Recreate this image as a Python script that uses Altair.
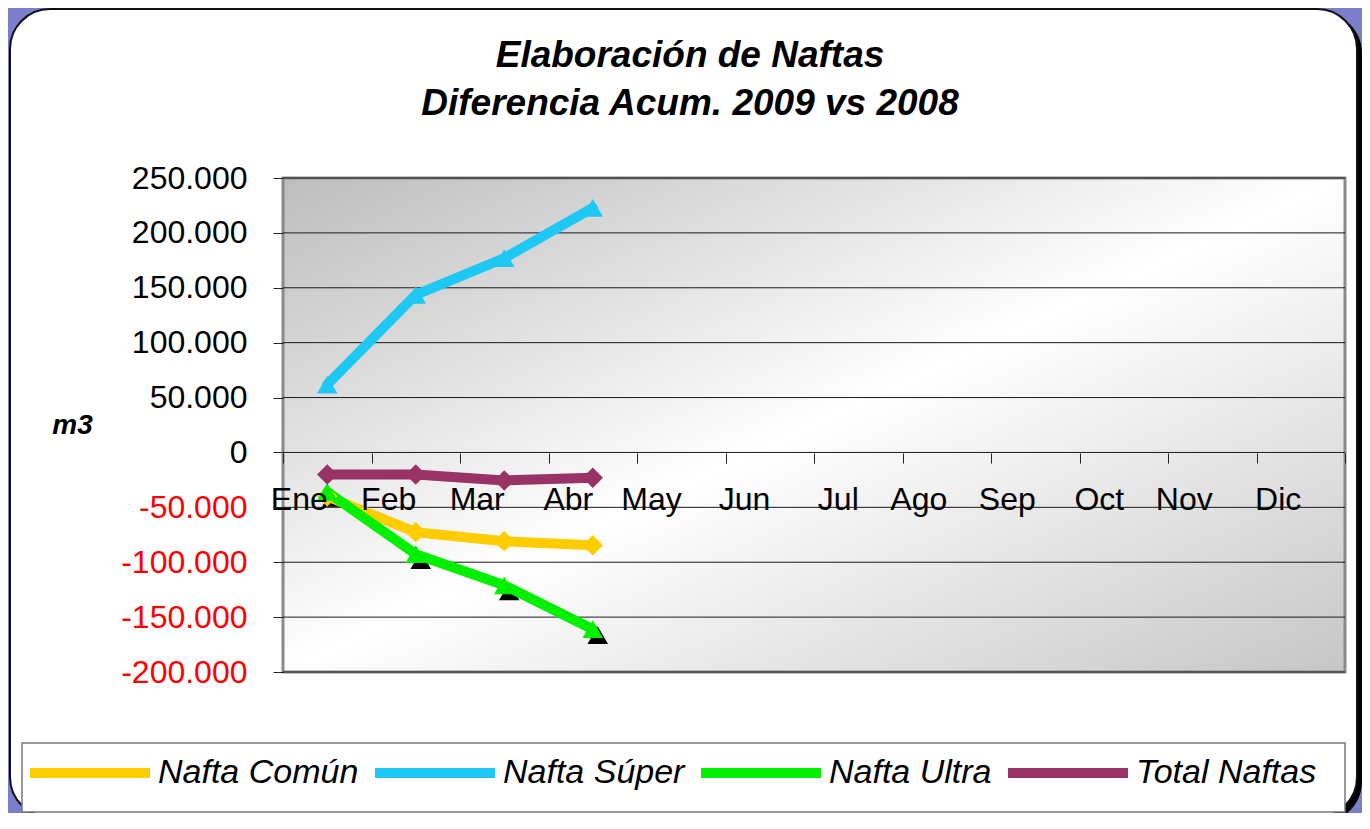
import altair as alt
import pandas as pd

# ---------------- data ----------------
meses = ["Ene", "Feb", "Mar", "Abr", "May", "Jun", "Jul", "Ago", "Sep", "Oct", "Nov", "Dic"]
meses_datos = ["Ene", "Feb", "Mar", "Abr"]
series = ["Nafta Común", "Nafta Súper", "Nafta Ultra", "Total Naftas"]
colores = ["#FFCC00", "#1EC8F5", "#00F000", "#993366"]
formas = ["diamond", "triangle-up", "triangle-up", "diamond"]
grosores = [10, 10, 10, 7]

nafta_comun = [-40000, -72700, -80900, -84500]
nafta_super = [61800, 143600, 177000, 222700]
nafta_ultra = [-36000, -92700, -121000, -161000]
total_naftas = [-20000, -20000, -25500, -23000]

y_ticks = [-200000, -150000, -100000, -50000, 0, 50000, 100000, 150000, 200000, 250000]

valores = {
    "Nafta Común": nafta_comun,
    "Nafta Súper": nafta_super,
    "Nafta Ultra": nafta_ultra,
    "Total Naftas": total_naftas,
}
rows = []
for s in series:
    for m, v in zip(meses_datos, valores[s]):
        rows.append({"serie": s, "mes": m, "valor": v})
df = pd.DataFrame(rows)
df_grid = pd.DataFrame({"valor": y_ticks})
one = pd.DataFrame({"k": [0]})

# ---------------- layout ----------------
W, H = 1062, 494          # plot area
PX, PY = 283, 178         # plot origin on page
FONT = "Liberation Sans"

xenc = alt.X(
    "mes:N",
    sort=meses,
    bandPosition=0.5,
    scale=alt.Scale(domain=meses, type="band", paddingInner=0, paddingOuter=0),
    axis=alt.Axis(
        title=None, labelAngle=0, labelFontSize=32, labelFont=FONT, labelColor="black",
        tickBand="extent", tickSize=10, tickColor="#222222", tickWidth=1,
        domain=False, grid=False, offset=-219, labelPadding=36, zindex=1,
    ),
)
yscale = alt.Scale(domain=[-200000, 250000], nice=False, zero=False)
yenc = alt.Y(
    "valor:Q",
    scale=yscale,
    axis=alt.Axis(
        values=y_ticks, grid=False, domain=False, tickSize=10, tickColor="#222222",
        labelFontSize=32, labelFont=FONT, labelPadding=26,
        labelExpr="(datum.value < 0 ? '-' : '') + replace(format(abs(datum.value), ','), ',', '.')",
        labelColor=alt.condition("datum.value < 0", alt.value("#FF0000"), alt.value("#000000")),
        title="m3", titleAngle=0, titleFontSize=28, titleFont=FONT, titleFontStyle="italic",
        titleFontWeight="bold", titleX=72 - PX, titleY=425 - PY, titleAlign="center",
        titleBaseline="middle", zindex=1,
    ),
)

# decorations (panel, shadow, plot background, legend box)
shadow = alt.Chart(one).mark_rect(fill="#000000", cornerRadius=40).encode(
    x=alt.value(14 - PX), x2=alt.value(1362 - PX), y=alt.value(13 - PY), y2=alt.value(822 - PY)
)
panel = alt.Chart(one).mark_rect(fill="#ffffff", stroke="#111111", strokeWidth=2, cornerRadius=40).encode(
    x=alt.value(10 - PX), x2=alt.value(1357 - PX), y=alt.value(9 - PY), y2=alt.value(817 - PY)
)
plotbg = alt.Chart(one).mark_rect(
    fill=alt.Gradient(
        gradient="linear",
        stops=[
            alt.GradientStop(color="#bdbdbd", offset=0),
            alt.GradientStop(color="#ffffff", offset=0.5),
            alt.GradientStop(color="#c6c6c6", offset=1),
        ],
        x1=0, y1=0, x2=1, y2=1,
    ),
    stroke="#8a8a8a", strokeWidth=3,
).encode(x=alt.value(0), x2=alt.value(W), y=alt.value(0), y2=alt.value(H))
legbox = alt.Chart(one).mark_rect(fill="#ffffff", stroke="#7a7a7a", strokeWidth=1.5).encode(
    x=alt.value(22 - PX), x2=alt.value(1345 - PX), y=alt.value(743 - PY), y2=alt.value(812 - PY)
)

grid = alt.Chart(df_grid).mark_rule(color="#1a1a1a", strokeWidth=1).encode(
    y=alt.Y("valor:Q", scale=yscale)
)

color_scale = alt.Scale(domain=series, range=colores)

lines = alt.Chart(df).mark_line(strokeJoin="round", strokeCap="round").encode(
    x=xenc,
    y=yenc,
    color=alt.Color(
        "serie:N", scale=color_scale,
        legend=alt.Legend(
            title=None, orient="none", legendX=25 - PX, legendY=708 - PY,
            direction="horizontal", symbolType="stroke", symbolSize=14400,
            symbolStrokeWidth=8, labelFontSize=34, labelFont=FONT, labelFontStyle="italic",
            labelColor="black", labelOffset=3, columnPadding=-4, labelLimit=500, zindex=2,
        ),
    ),
    strokeWidth=alt.StrokeWidth("serie:N", scale=alt.Scale(domain=series, range=grosores), legend=None),
    order=alt.Order("mes_idx:Q"),
).transform_calculate(mes_idx="indexof(['Ene','Feb','Mar','Abr'], datum.mes)")

px = alt.X("mes:N", sort=meses, bandPosition=0.5)
py = alt.Y("valor:Q", scale=yscale)

# black marker shadows behind the Ultra triangles
shadow_pts = alt.Chart(df).transform_filter(alt.datum.serie == "Nafta Ultra").mark_point(
    filled=True, shape="triangle-up", color="#000000", size=420, opacity=1, xOffset=5, yOffset=6
).encode(x=px, y=py)

point_layers = []
for s, c, f in zip(series, colores, formas):
    point_layers.append(
        alt.Chart(df).transform_filter(alt.datum.serie == s).mark_point(
            filled=True, shape=f, color=c, size=420, opacity=1
        ).encode(x=px, y=py)
    )

chart = alt.layer(
    shadow, panel, plotbg, legbox, grid, shadow_pts, lines, *point_layers
).properties(
    width=W,
    height=H,
    autosize=alt.AutoSizeParams(type="none"),
    padding={"left": PX - 8, "top": PY - 8, "right": 17, "bottom": 141},
    title=alt.TitleParams(
        text=["Elaboración de Naftas", "Diferencia Acum. 2009 vs 2008"],
        fontSize=37, font=FONT, fontStyle="italic", fontWeight="bold", color="black",
        anchor="middle", frame="group", dx=-124, dy=119, lineHeight=48, zindex=2,
    ),
).configure(background="#7b7ecb").configure_view(stroke=None)

chart.save("out.html", embed_options={"renderer": "svg", "actions": False})
